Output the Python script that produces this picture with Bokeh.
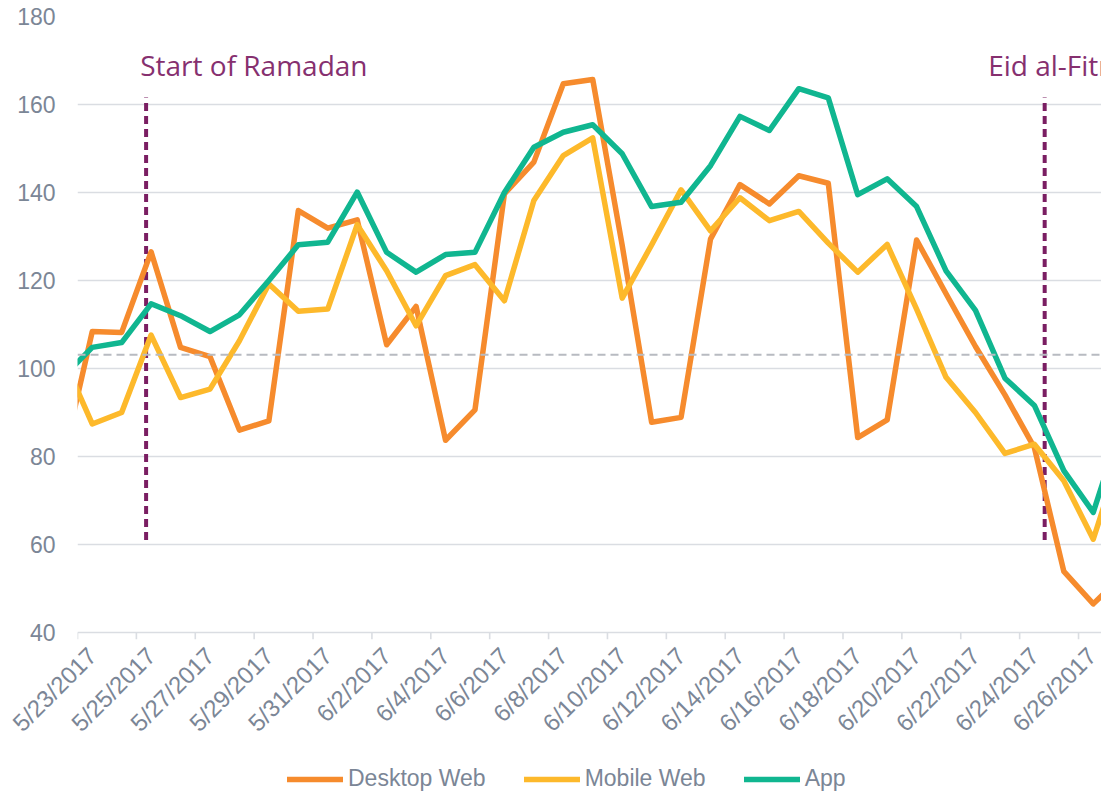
import math
import numpy as np
import pandas as pd
from bokeh.plotting import figure
from bokeh.layouts import column
from bokeh.models import FixedTicker, Legend, LegendItem, Span, Range1d
from bokeh.core.properties import value
from bokeh.embed import file_html
from bokeh.resources import INLINE

# ---------------- data ----------------
start_date = "2017-05-23"
dates = pd.date_range("2017-05-22", "2017-06-27", freq="D")  # one value per day

desktop_web = [79, 108.4, 108.2, 126.5, 104.8, 102.7, 86.0, 88.1, 135.9, 131.9, 133.8,
               105.4, 114.1, 83.7, 90.6, 139.7, 146.9, 164.7, 165.7, 128.0, 87.8, 88.9,
               129.4, 141.8, 137.4, 143.8, 142.1, 84.3, 88.3, 129.2, 117.0, 105.0, 94.0,
               82.0, 53.9, 46.5, 53.0]
mobile_web = [102.6, 87.4, 90.0, 107.6, 93.4, 95.3, 106.3, 119.2, 113.0, 113.5, 132.7,
              122.2, 109.7, 121.1, 123.6, 115.4, 138.2, 148.4, 152.4, 116.0, 128.1, 140.6,
              131.3, 138.8, 133.6, 135.7, 128.5, 121.9, 128.2, 113.5, 98.0, 90.0, 80.7,
              82.8, 74.5, 61.2, 82.0]
app = [98.0, 104.8, 105.9, 114.7, 112.0, 108.4, 112.2, 120.0, 128.1, 128.7, 140.1,
       126.4, 121.9, 125.9, 126.4, 140.0, 150.3, 153.7, 155.4, 148.8, 136.8, 137.8,
       146.1, 157.3, 154.1, 163.6, 161.5, 139.5, 143.1, 136.8, 122.2, 113.2, 97.8,
       91.6, 76.8, 67.3, 88.0]

series_names = ["Desktop Web", "Mobile Web", "App"]
series_colors = ["#F68B2D", "#FDB92B", "#10B690"]

tick_labels = ["5/23/2017", "5/25/2017", "5/27/2017", "5/29/2017", "5/31/2017",
               "6/2/2017", "6/4/2017", "6/6/2017", "6/8/2017", "6/10/2017",
               "6/12/2017", "6/14/2017", "6/16/2017", "6/18/2017", "6/20/2017",
               "6/22/2017", "6/24/2017", "6/26/2017"]

event_labels = ["Start of Ramadan", "Eid al-Fitr"]
event_days = [2.33, 32.85]          # days after 5/23/2017 00:00
event_label_days = [2.13, 30.93]

average_level = 103.1

# ---------------- main figure ----------------
t0 = pd.Timestamp(start_date)
x_pts = np.array([(d - t0).days for d in dates], dtype=float) + 0.5
tick_pos = [(pd.to_datetime(l, format="%m/%d/%Y") - t0).days for l in tick_labels]
series_values = [desktop_web, mobile_web, app]

Y_MIN, Y_MAX = 40, 180
tick_len = 7 / 4.4                 # tick marks below the baseline, in data units
y_start = Y_MIN - tick_len

W = 1101
H_MAIN, H_LEG = 766, 26
p = figure(width=W, height=H_MAIN, output_backend="svg", toolbar_location=None,
           x_range=Range1d(0, 34.78), y_range=Range1d(y_start, Y_MAX),
           min_border_left=77, min_border_right=0, min_border_top=16, min_border_bottom=127)
p.outline_line_color = None
p.background_fill_color = "white"
p.border_fill_color = "white"

label_color = "#7B8696"
font = "Liberation Sans"
grid_color = "#DADDE2"

# grid (the 40 line doubles as the category axis line)
yt = list(range(Y_MIN, Y_MAX + 1, 20))
p.xgrid.grid_line_color = None
p.ygrid.grid_line_color = grid_color
p.ygrid.grid_line_width = 1.6
p.ygrid.ticker = FixedTicker(ticks=yt)

# y axis
p.yaxis.ticker = FixedTicker(ticks=yt)
p.yaxis.axis_line_color = None
p.yaxis.major_tick_line_color = None
p.yaxis.minor_tick_line_color = None
p.yaxis.major_tick_out = 0
p.yaxis.major_label_standoff = 22
p.yaxis.major_label_text_font = font
p.yaxis.major_label_text_font_size = "23px"
p.yaxis.major_label_text_color = label_color

# tick marks of the date axis
p.segment(x0=tick_pos, x1=tick_pos, y0=[Y_MIN] * len(tick_pos), y1=[y_start] * len(tick_pos),
          line_color=grid_color, line_width=1.6)

# date labels: rotated, placed at the category centre like Excel
lab_ticks = [t + 0.5 for t in tick_pos]
p.xaxis.ticker = FixedTicker(ticks=lab_ticks)
p.xaxis.major_label_overrides = {t: lab for t, lab in zip(lab_ticks, tick_labels)}
p.xaxis.axis_line_color = None
p.xaxis.major_tick_line_color = None
p.xaxis.minor_tick_line_color = None
p.xaxis.major_tick_out = 0
p.xaxis.major_tick_in = 0
p.xaxis.major_label_orientation = math.pi / 4
p.xaxis.major_label_standoff = 12
p.xaxis.major_label_text_font = font
p.xaxis.major_label_text_font_size = "24px"
p.xaxis.major_label_text_color = label_color

# average line
p.add_layout(Span(location=average_level, dimension="width", line_color="#B8BBC1",
                  line_width=2, line_dash="8 5"))

# event lines and labels
purple = "#7A1E62"
p.segment(x0=event_days, x1=event_days, y0=[61] * len(event_days), y1=[161.6] * len(event_days),
          line_color=purple, line_width=4, line_dash="8 5")
p.text(x=event_label_days, y=[169.0] * len(event_days), text=event_labels,
       text_font=value("Open Sans"), text_font_size="28px", text_color="#86306F",
       text_align="left", text_baseline="alphabetic")

# series
for name, vals, col in zip(series_names, series_values, series_colors):
    p.line(x_pts, vals, line_color=col, line_width=5.5, line_join="round", line_cap="round")

# ---------------- legend strip ----------------
# the strip's y range lies outside the data, so its lines only serve as legend glyphs
pl = figure(width=W, height=H_LEG, output_backend="svg", toolbar_location=None,
            x_axis_type=None, y_axis_type=None, min_border=0,
            x_range=Range1d(0, 34.78), y_range=Range1d(0, 1))
pl.outline_line_color = None
pl.grid.grid_line_color = None
items = []
for name, vals, col in zip(series_names, series_values, series_colors):
    r = pl.line(x_pts, vals, line_color=col, line_width=5.5, line_cap="round")
    items.append(LegendItem(label=name, renderers=[r]))
legend = Legend(items=items, orientation="horizontal", location=(210, 0),
                glyph_width=56, glyph_height=H_LEG, label_height=H_LEG, label_standoff=5,
                spacing=38, padding=0, margin=0, border_line_color=None,
                background_fill_alpha=0, label_text_font=font,
                label_text_font_size="23px", label_text_color=label_color)
pl.add_layout(legend)

layout = column(p, pl, spacing=0)
open("out.html", "w").write(file_html(layout, INLINE))
